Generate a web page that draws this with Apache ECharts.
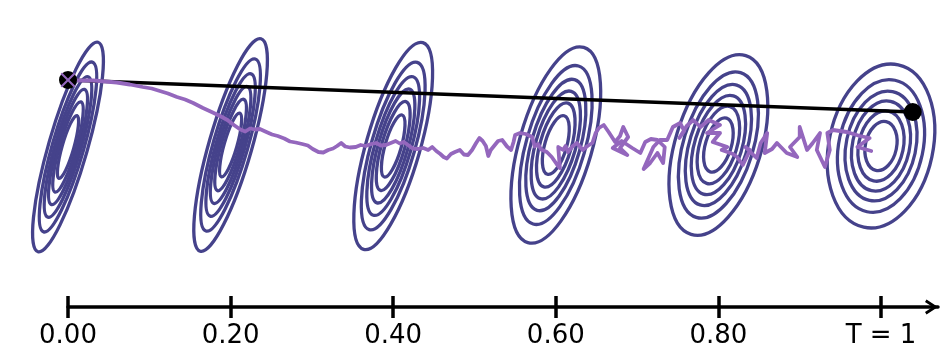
<!DOCTYPE html>
<html><head><meta charset="utf-8">
<script src="https://cdn.jsdelivr.net/npm/echarts@6/dist/echarts.min.js"></script>
<style>html,body{margin:0;padding:0;background:#fff}#c{width:948px;height:362px}</style>
</head><body><div id="c"></div>
<script>
// ---- data ----
const tickValues = [0, 0.2, 0.4, 0.6, 0.8, 1.0];
const tickLabels = ['0.00', '0.20', '0.40', '0.60', '0.80', 'T = 1'];

// Gaussian marginals drawn at each time (centre, semi-axes, tilt in degrees)
const ellipseT = [0, 0.2, 0.4, 0.6, 0.8, 1.0];
const ellipseY = [-0.04, 0, -0.02, 0, 0, -0.02];
const ellipseMajor = [2.18, 2.21, 2.15, 2.03, 1.87, 1.66];
const ellipseMinor = [0.39, 0.43, 0.54, 0.73, 0.86, 1.04];
const ellipseTilt = [16, 16, 16, 16, 17, 12];
const contourLevels = [1, 0.81, 0.67, 0.55, 0.43, 0.3];

// straight interpolation between start and end
const bridgeStart = [0, 1.30];
const bridgeEnd = [1.039, 0.66];

// sampled trajectory [t, y]
const walkPoints = [
 [0,1.30],[0.015,1.29],[0.031,1.29],[0.046,1.27],[0.060,1.25],[0.076,1.21],[0.092,1.16],[0.103,1.13],
 [0.113,1.08],[0.123,1.03],[0.134,0.96],[0.144,0.91],[0.154,0.84],[0.166,0.74],[0.178,0.65],[0.187,0.58],
 [0.196,0.50],[0.204,0.40],[0.212,0.31],[0.218,0.27],[0.224,0.33],[0.230,0.31],[0.236,0.32],[0.244,0.26],
 [0.251,0.21],[0.258,0.18],[0.266,0.13],[0.273,0.07],[0.280,0.05],[0.288,0.02],[0.295,-0.01],[0.301,-0.08],
 [0.308,-0.14],[0.314,-0.15],[0.320,-0.10],[0.326,-0.07],[0.331,-0.02],[0.336,0.04],[0.341,-0.03],[0.347,-0.05],
 [0.354,-0.04],[0.360,0.00],[0.366,-0.02],[0.373,0.02],[0.379,0.04],[0.385,-0.01],[0.391,0.00],[0.397,0.04],
 [0.403,0.08],[0.408,0.03],[0.413,0.06],[0.419,-0.01],[0.424,-0.07],[0.430,-0.08],[0.437,-0.06],[0.443,-0.10],
 [0.448,-0.04],[0.453,-0.12],[0.458,-0.18],[0.462,-0.24],[0.466,-0.27],[0.471,-0.18],[0.476,-0.14],[0.482,-0.10],
 [0.487,-0.19],[0.492,-0.20],[0.497,-0.10],[0.502,0.04],[0.506,0.14],[0.510,0.08],[0.514,-0.02],[0.517,-0.22],
 [0.520,-0.10],[0.524,-0.02],[0.529,0.08],[0.534,0.10],[0.540,-0.03],[0.545,-0.10],[0.548,0.06],[0.550,0.20],[0.556,0.24],
 [0.563,0.22],[0.571,0.16],[0.574,-0.03],[0.578,0.02],[0.582,-0.09],[0.589,-0.14],[0.595,-0.24],[0.601,-0.38],[0.605,-0.46],
 [0.603,-0.04],[0.609,-0.10],[0.612,-0.02],[0.615,-0.14],[0.621,-0.02],[0.626,0.04],[0.633,-0.10],[0.639,-0.02],[0.645,0.04],
 [0.649,0.24],[0.653,0.34],[0.659,0.40],[0.665,0.26],[0.673,0.06],[0.679,0.18],[0.683,0.36],[0.689,0.16],
 [0.679,-0.06],[0.688,-0.20],[0.670,-0.06],[0.681,0.08],[0.694,-0.06],[0.704,-0.16],[0.710,0.06],[0.717,0.12],
 [0.725,0.10],[0.734,-0.04],[0.732,-0.36],[0.725,-0.16],[0.716,-0.36],[0.708,-0.48],[0.720,-0.04],[0.728,0.10],
 [0.737,0.10],[0.744,0.36],[0.753,0.44],[0.758,0.28],[0.752,0.14],[0.761,0.38],[0.769,0.50],[0.778,0.36],
 [0.788,0.50],[0.802,0.40],[0.786,0.24],[0.802,0.24],[0.793,0.06],[0.811,-0.04],[0.804,-0.10],[0.818,-0.18],[0.823,-0.24],[0.830,-0.40],
 [0.839,-0.10],[0.833,-0.04],[0.847,-0.26],[0.852,0.04],[0.860,0.24],[0.857,-0.16],[0.866,-0.08],[0.872,0.04],[0.884,-0.16],[0.897,-0.24],[0.888,-0.04],
 [0.900,0.16],[0.900,0.36],[0.909,-0.10],[0.916,0.04],[0.925,0.24],[0.921,-0.10],[0.931,-0.44],[0.937,-0.10],
 [0.934,0.24],[0.941,0.30],[0.958,0.26],[0.974,0.18],[0.986,0.14],[0.971,-0.04],[0.988,-0.12]
];

// ---- chart ----
const chart = echarts.init(document.getElementById('c'), null, {renderer: 'canvas'});
const ringColor = '#45428b';
const walkColor = '#9467bd';
const arrowPath = 'path://M7.5,0 L15,11.5 L12.6,13 L7.5,5.3 L2.4,13 L0,11.5 Z';
const xMarker = 'path://M0,2 L2,0 L10,8 L18,0 L20,2 L12,10 L20,18 L18,20 L10,12 L2,20 L0,18 L8,10 Z';

const option = {
  animation: false,
  backgroundColor: '#fff',
  grid: {left: 68, right: 10, top: 0, bottom: 55, containLabel: false, outerBoundsMode: 'none'},
  xAxis: [{
    type: 'value', min: 0, max: 1.0701, position: 'bottom',
    axisLine: {show: true, onZero: false, symbol: ['none', arrowPath], symbolSize: [15, 13], symbolOffset: [0, -6.5],
      lineStyle: {color: '#000', width: 3.5}},
    axisTick: {show: true, length: 11, customValues: tickValues, lineStyle: {color: '#000', width: 3.5}},
    axisLabel: {show: true, customValues: tickValues, margin: 16, fontSize: 26, color: '#000',
      fontFamily: 'DejaVu Sans',
      formatter: v => { const i = tickValues.findIndex(t => Math.abs(t - v) < 1e-6); return i >= 0 ? tickLabels[i] : ''; }},
    splitLine: {show: false}
  }, {
    type: 'value', min: 0, max: 1.0701, position: 'bottom',
    axisLine: {show: false, onZero: false},
    axisTick: {show: true, inside: true, length: 11, customValues: tickValues, lineStyle: {color: '#000', width: 3.5}},
    axisLabel: {show: false},
    splitLine: {show: false}
  }],
  yAxis: {type: 'value', min: -3.24, max: 2.9, show: false},
  series: [
    {
      type: 'custom', coordinateSystem: 'cartesian2d', xAxisIndex: 0, silent: true, clip: false, z: 1,
      data: ellipseT.map((t, i) => [t, ellipseY[i], ellipseMajor[i], ellipseMinor[i], ellipseTilt[i]]),
      renderItem: function (params, api) {
        const c = api.coord([api.value(0), api.value(1)]);
        const unit = api.size([0, 1])[1];
        const a = api.value(2) * unit, b = api.value(3) * unit;
        return {
          type: 'group', x: c[0], y: c[1], rotation: -api.value(4) * Math.PI / 180,
          children: contourLevels.map(f => ({
            type: 'ellipse', shape: {cx: 0, cy: 0, rx: b * f, ry: a * f},
            style: {fill: 'none', stroke: ringColor, lineWidth: 3.3}
          }))
        };
      }
    },
    {
      type: 'line', z: 2, silent: true, showSymbol: false, data: [bridgeStart, bridgeEnd],
      lineStyle: {color: '#000', width: 3.5, opacity: 1}
    },
    {
      type: 'line', z: 3, silent: true, showSymbol: false, data: walkPoints,
      lineStyle: {color: walkColor, width: 3.8, join: 'round', cap: 'round', opacity: 1}
    },
    {
      type: 'scatter', z: 4, silent: true, symbol: 'circle', symbolSize: 18,
      data: [bridgeStart, bridgeEnd], itemStyle: {color: '#000', opacity: 1}
    },
    {
      type: 'scatter', z: 5, silent: true, symbol: xMarker, symbolSize: 15,
      data: [bridgeStart], itemStyle: {color: walkColor, opacity: 1}
    }
  ]
};
chart.setOption(option);
</script>
</body></html>
